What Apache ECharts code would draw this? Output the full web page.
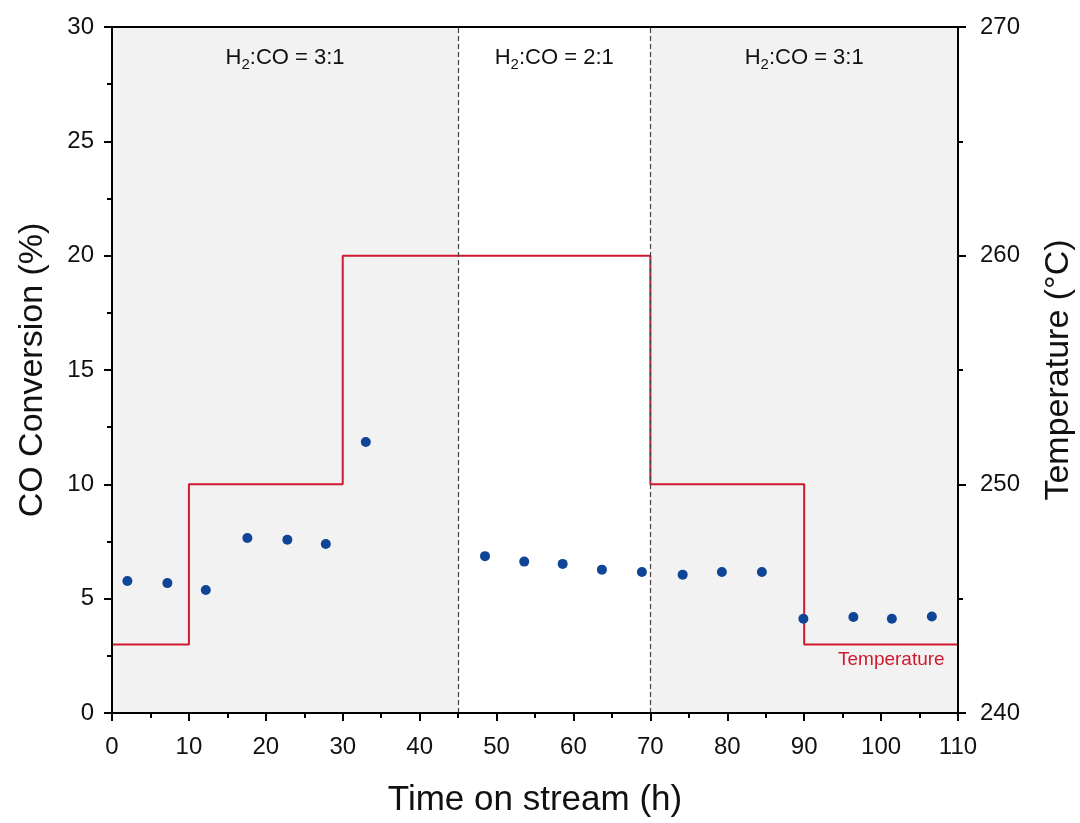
<!doctype html>
<html>
<head>
<meta charset="UTF-8">
<title>CO Conversion</title>
<script src="https://cdn.jsdelivr.net/npm/echarts@6/dist/echarts.min.js"></script>
<style>
  html, body { margin: 0; padding: 0; background: #fff; }
  #main { width: 1080px; height: 823px; }
</style>
</head>
<body>
<div id="main"></div>
<script>
// CO conversion points: [time (h), conversion (%)]
var convTime = [2, 7.2, 12.2, 17.6, 22.8, 27.8, 33.0, 48.5, 53.6, 58.6, 63.7, 68.9, 74.2, 79.3, 84.5, 89.9, 96.4, 101.4, 106.6];
var convValue = [5.77, 5.68, 5.38, 7.65, 7.58, 7.39, 11.85, 6.86, 6.62, 6.52, 6.27, 6.17, 6.05, 6.17, 6.17, 4.12, 4.2, 4.12, 4.22];

// temperature steps: time where a step starts, temperature (°C)
var tempTime = [0, 10, 30, 70, 90, 110];
var tempValue = [243, 250, 260, 250, 243, 243];

// feed ratio regions
var regionStart = [0, 45, 70];
var regionEnd = [45, 70, 110];
var regionRatio = ['3:1', '2:1', '3:1'];
var regionShaded = [true, false, true];

var FONT = '"Liberation Sans", Arial, sans-serif';

var scatterData = convTime.map(function (t, i) { return [t, convValue[i]]; });
var tempData = tempTime.map(function (t, i) { return [t, tempValue[i]]; });

var areas = [];
for (var i = 0; i < regionStart.length; i++) {
  areas.push([{
    xAxis: regionStart[i],
    itemStyle: { color: regionShaded[i] ? '#f2f2f2' : 'rgba(255,255,255,0)' },
    label: {
      show: true,
      position: 'insideTop',
      distance: 16,
      formatter: '{n|H}{s|2}{n|:CO = ' + regionRatio[i] + '}',
      rich: {
        n: { fontSize: 22, color: '#111', fontFamily: FONT },
        s: { fontSize: 15, color: '#111', fontFamily: FONT, padding: [14, 0, 0, 0] }
      }
    }
  }, { xAxis: regionEnd[i] }]);
}

var axisCommon = {
  axisLine: { show: true, onZero: false, lineStyle: { color: '#000', width: 2 } },
  axisTick: { show: true, length: 8, lineStyle: { width: 2, color: '#000' } },
  minorTick: { show: true, splitNumber: 2, length: 5, lineStyle: { width: 2, color: '#000' } },
  axisLabel: { fontSize: 24, color: '#111', margin: 18, fontFamily: FONT },
  splitLine: { show: false },
  nameTextStyle: { fontSize: 34, color: '#111', fontFamily: FONT },
  z: 10
};

var myChart = echarts.init(document.getElementById('main'));
var option = {
  animation: false,
  textStyle: { fontFamily: FONT },
  grid: { left: 112, right: 122, top: 27, bottom: 110, outerBoundsMode: 'none', containLabel: false },
  xAxis: [Object.assign({}, axisCommon, {
    type: 'value', min: 0, max: 110, interval: 10,
    name: 'Time on stream (h)', nameLocation: 'middle', nameGap: 70,
    axisLabel: { fontSize: 24, color: '#111', margin: 22, fontFamily: FONT },
    nameTextStyle: { fontSize: 35, color: '#111', fontFamily: FONT }
  }), {
    type: 'value', min: 0, max: 110, position: 'top', z: 10,
    axisLine: { show: true, onZero: false, lineStyle: { color: '#000', width: 2 } },
    axisTick: { show: false }, axisLabel: { show: false }, splitLine: { show: false }
  }],
  yAxis: [Object.assign({}, axisCommon, {
    type: 'value', min: 0, max: 30, interval: 5,
    name: 'CO Conversion (%)', nameLocation: 'middle', nameGap: 62
  }), Object.assign({}, axisCommon, {
    type: 'value', min: 240, max: 270, interval: 10, position: 'right',
    name: 'Temperature (°C)', nameLocation: 'middle', nameGap: 84, nameRotate: 90,
    axisLabel: { fontSize: 24, color: '#111', margin: 22, fontFamily: FONT }
  })],
  series: [{
    type: 'scatter',
    name: 'Conversion',
    data: scatterData,
    symbolSize: 10,
    itemStyle: { color: '#0f4596', opacity: 1 },
    z: 5,
    markArea: { silent: true, data: areas, z: 1 },
    markLine: {
      silent: true, symbol: 'none',
      label: { show: false },
      lineStyle: { type: [5, 3], color: '#444', width: 1.2 },
      data: [{ xAxis: 45 }, { xAxis: 70 }]
    }
  }, {
    type: 'line',
    name: 'Temperature',
    yAxisIndex: 1,
    step: 'end',
    data: tempData,
    showSymbol: false,
    lineStyle: { color: '#d0192f', width: 2 },
    itemStyle: { color: '#d0192f' },
    z: 4
  }],
  graphic: [{
    type: 'text', left: 838, top: 650, z: 100,
    style: { text: 'Temperature', fontSize: 19, fill: '#d0192f', fontFamily: FONT }
  }]
};
myChart.setOption(option);
</script>
</body>
</html>
